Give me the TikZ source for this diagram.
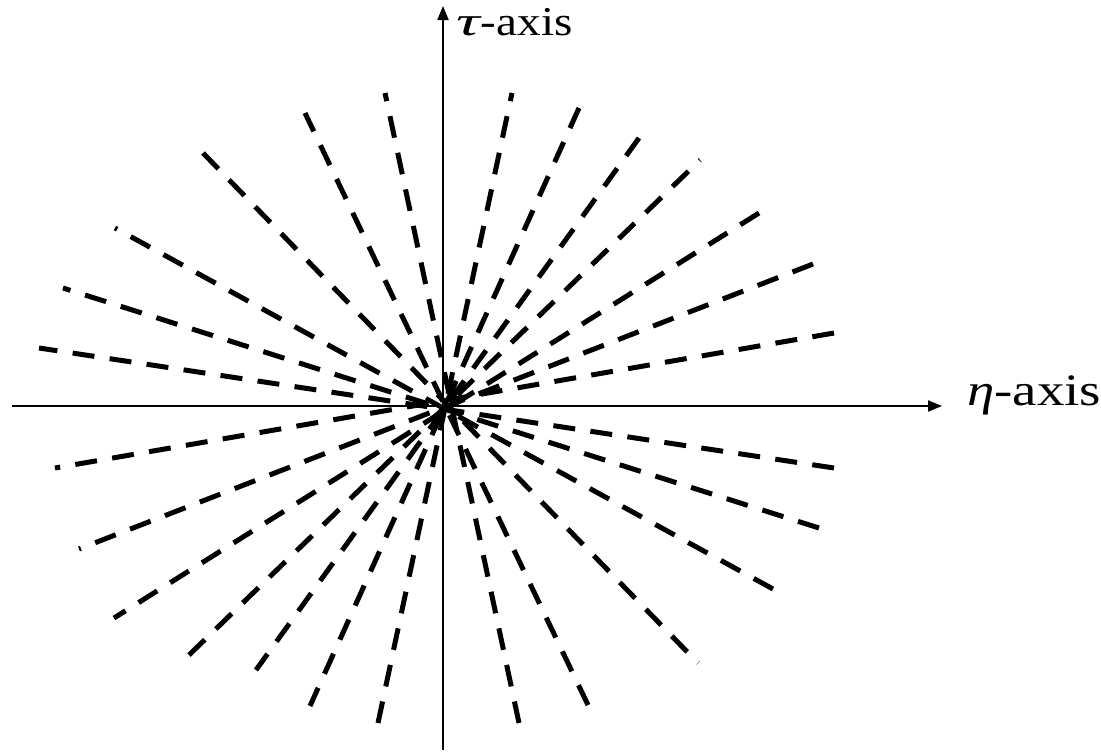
\documentclass[tikz,border=0pt]{standalone}
\usepackage{fontspec}
\setmainfont{Liberation Serif}
\usetikzlibrary{arrows.meta}
\begin{document}
\begin{tikzpicture}[x=1pt,y=-1pt,
  axisline/.style={line width=2pt,-{Triangle[length=14pt,width=11pt]}},
  ray/.style={line width=5pt,dash pattern=on 22pt off 15.4pt},
  axislabel/.style={anchor=base west,inner sep=0pt}]
\useasboundingbox (0,0) rectangle (1101,753);
\coordinate (L) at (12,406);
\coordinate (R) at (942,406);
\coordinate (B) at (443,750);
\coordinate (T) at (443,6);
\draw[axisline] (L) -- (R);
\draw[axisline] (B) -- (T);
\node[axislabel] (tl) at (456,35) {\fontsize{41}{44}\selectfont\scalebox{1.15}[1]{\scalebox{1.4}[1]{\itshape τ}\kern1pt-axis}};
\node[axislabel] (el) at (967,405) {\fontsize{45}{48}\selectfont\scalebox{1.22}[1]{\itshape η\upshape-axis}};
\foreach \i/\p/\q in {1/{834,333}/{55,468},2/{813,264}/{79,549},3/{759,213}/{114,618},4/{189,655}/{700,160},
  5/{639,138}/{256,670},6/{579,108}/{310,706},7/{378,723}/{512,93},8/{519,723}/{385,93},
  9/{588,705}/{305,113},10/{203,153}/{698,663},11/{773,589}/{115,228},12/{819,528}/{63,288},13/{834,468}/{39,348}}{
  \coordinate (a\i) at (\p);
  \coordinate (b\i) at (\q);
  \draw[ray] (a\i) -- (b\i);
}
\end{tikzpicture}
\end{document}
